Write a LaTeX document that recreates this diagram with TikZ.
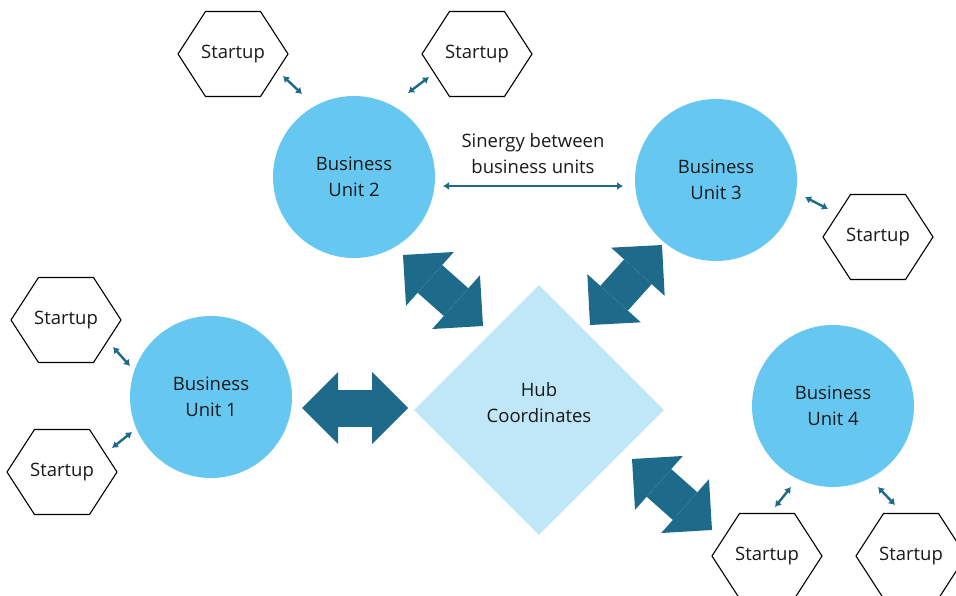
\documentclass[tikz,border=0pt]{standalone}
\usepackage{fontspec}
\setmainfont{Open Sans}
\usetikzlibrary{arrows.meta,shapes.geometric}

\definecolor{unitblue}{RGB}{102,200,241}
\definecolor{hubblue}{RGB}{191,231,248}
\definecolor{arrowblue}{RGB}{30,106,139}

\tikzset{
  bigarrow/.style={draw=arrowblue,line width=37pt,
    {Triangle[length=36pt,width=72pt,line width=0pt]}-{Triangle[length=36pt,width=72pt,line width=0pt]}},
  smallarrow/.style={draw=arrowblue,line width=2.4pt,
    {Latex[length=6pt,width=8pt]}-{Latex[length=6pt,width=8pt]}}
}

\begin{document}
\begin{tikzpicture}[x=1pt,y=-1pt,
    every node/.style={font=\fontsize{18.5}{26}\selectfont,align=center,text=black!90},
    unit/.style={circle,fill=unitblue,minimum size=162pt,inner sep=0pt},
    hub/.style={diamond,fill=hubblue,minimum width=250pt,minimum height=250pt,inner sep=0pt},
    startup/.style={inner sep=0pt},
    hexline/.style={draw=black,line width=1.1pt,line join=miter}]
        \useasboundingbox (0,0) rectangle (956,596);

        % business units and hub
        \node[unit] (bu1) at (211,397) {Business\\Unit 1};
        \node[unit] (bu2) at (354,177) {Business\\Unit 2};
        \node[unit] (bu3) at (716,180) {Business\\Unit 3};
        \node[unit] (bu4) at (833,406) {Business\\Unit 4};
        \node[hub] (hub) at (539,410) {};
        \node[yshift=7pt] (hubtext) at (hub) {Hub\\Coordinates};

        % startups
        \node[startup] (s1) at (233,54) {Startup};
        \node[startup] (s2) at (477,54) {Startup};
        \node[startup] (s3) at (878,237) {Startup};
        \node[startup] (s4) at (66,320) {Startup};
        \node[startup] (s5) at (62,472) {Startup};
        \node[startup] (s6) at (767,556) {Startup};
        \node[startup] (s7) at (911,556) {Startup};
        \foreach \s in {s1,s2,s3,s4,s5,s6,s7}
          \draw[hexline] ([shift={(-55,0)}]\s.center) -- ([shift={(-27.5,-42.5)}]\s.center)
                -- ([shift={(27.5,-42.5)}]\s.center) -- ([shift={(55,0)}]\s.center)
                -- ([shift={(27.5,42.5)}]\s.center) -- ([shift={(-27.5,42.5)}]\s.center) -- cycle;

        % big arrows to the hub
        \draw[bigarrow] ([shift={(49,78)}]bu2.center) -- ([shift={(-56,-84)}]hub.center);
        \draw[bigarrow] ([shift={(-54,65)}]bu3.center) -- ([shift={(51,-85)}]hub.center);
        \draw[bigarrow] ([shift={(91,11)}]bu1.center) -- ([shift={(-131,-2)}]hub.center);
        \draw[bigarrow] ([shift={(93,49)}]hub.center) -- ([shift={(-121,124)}]bu4.center);

        % synergy
        \node (syn) at (533,154) {Sinergy between\\business units};
        \draw[smallarrow] ([shift={(89,9)}]bu2.center) -- ([shift={(-93,6)}]bu3.center);

        % small arrows to the startups
        \draw[smallarrow] ([shift={(50,22)}]s1.center) -- ([shift={(-52,-83)}]bu2.center);
        \draw[smallarrow] ([shift={(-48,23)}]s2.center) -- ([shift={(54,-84)}]bu2.center);
        \draw[smallarrow] ([shift={(89,17)}]bu3.center) -- ([shift={(-50,-28)}]s3.center);
        \draw[smallarrow] ([shift={(47,27)}]s4.center) -- ([shift={(-81,-31)}]bu1.center);
        \draw[smallarrow] ([shift={(50,-24)}]s5.center) -- ([shift={(-79,35)}]bu1.center);
        \draw[smallarrow] ([shift={(-42,81)}]bu4.center) -- ([shift={(8,-49)}]s6.center);
        \draw[smallarrow] ([shift={(45,81)}]bu4.center) -- ([shift={(-16,-51)}]s7.center);
      \end{tikzpicture}
\end{document}
